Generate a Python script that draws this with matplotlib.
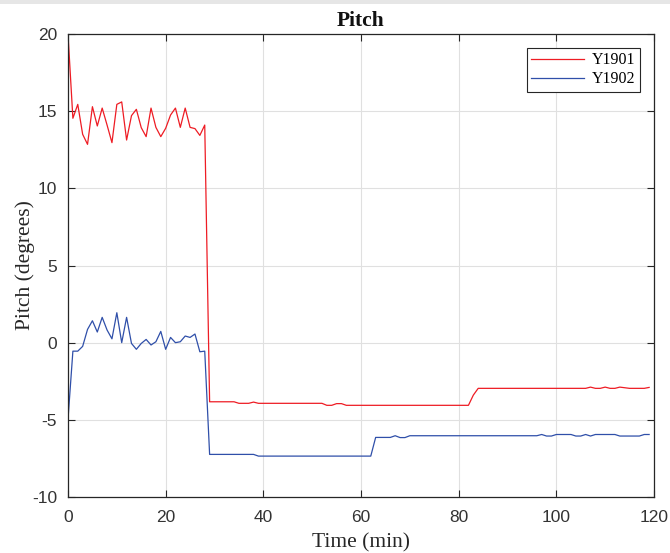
import matplotlib
matplotlib.use("Agg")
import matplotlib.pyplot as plt
from matplotlib.patches import Rectangle

plt.rcParams["axes.unicode_minus"] = False

time_min = list(range(120))

y1901 = [20.0, 14.54, 15.44, 13.5, 12.85, 15.29, 14.04, 15.2, 14.1, 12.96,
         15.44, 15.6, 13.13, 14.71, 15.12, 13.93, 13.35, 15.2, 13.95, 13.35,
         13.89, 14.75, 15.2, 13.95, 15.2, 13.95, 13.87, 13.43, 14.1,
         -3.83, -3.83, -3.83, -3.83, -3.83, -3.83,
         -3.93, -3.93, -3.93, -3.85,
         -3.93, -3.93, -3.93, -3.93, -3.93, -3.93, -3.93, -3.93, -3.93, -3.93,
         -3.93, -3.93, -3.93, -3.93,
         -4.06, -4.06, -3.95, -3.95,
         -4.06, -4.06, -4.06, -4.06, -4.06, -4.06, -4.06, -4.06, -4.06, -4.06,
         -4.06, -4.06, -4.06, -4.06, -4.06, -4.06, -4.06, -4.06, -4.06, -4.06,
         -4.06, -4.06, -4.06, -4.06, -4.06, -4.06,
         -3.4,
         -2.96, -2.96, -2.96, -2.96, -2.96, -2.96, -2.96, -2.96, -2.96, -2.96,
         -2.96, -2.96, -2.96, -2.96, -2.96, -2.96, -2.96, -2.96, -2.96, -2.96,
         -2.96, -2.96, -2.96,
         -2.88, -2.96, -2.96, -2.88, -2.96, -2.96, -2.88, -2.92, -2.96, -2.96,
         -2.96, -2.96, -2.9]

y1902 = [-4.97, -0.55, -0.55, -0.24, 0.86, 1.42, 0.69, 1.64, 0.82, 0.25,
         1.94, 0.0, 1.64, -0.05, -0.43, -0.05, 0.21, -0.15, 0.06, 0.73,
         -0.43, 0.34, 0.0, 0.06, 0.43, 0.34, 0.56, -0.59, -0.55,
         -7.24, -7.24, -7.24, -7.24, -7.24, -7.24, -7.24, -7.24, -7.24, -7.24,
         -7.35, -7.35, -7.35, -7.35, -7.35, -7.35, -7.35, -7.35, -7.35, -7.35,
         -7.35, -7.35, -7.35, -7.35, -7.35, -7.35, -7.35, -7.35, -7.35, -7.35,
         -7.35, -7.35, -7.35, -7.35,
         -6.14, -6.14, -6.14, -6.14,
         -6.03, -6.15, -6.15,
         -6.03, -6.03, -6.03, -6.03, -6.03, -6.03, -6.03, -6.03, -6.03, -6.03,
         -6.03, -6.03, -6.03, -6.03, -6.03, -6.03, -6.03, -6.03, -6.03, -6.03,
         -6.03, -6.03, -6.03, -6.03, -6.03, -6.03, -6.03,
         -5.95, -6.05, -6.05,
         -5.95, -5.95, -5.95, -5.95,
         -6.05, -6.05, -5.95, -6.05,
         -5.95, -5.95, -5.95, -5.95, -5.95,
         -6.05, -6.05, -6.05, -6.05, -6.05,
         -5.95, -5.95]

series_names = ["Y1901", "Y1902"]
x_ticks = [0, 20, 40, 60, 80, 100, 120]
y_ticks = [-10, -5, 0, 5, 10, 15, 20]

serif = ["Liberation Serif", "DejaVu Serif"]
sans = ["Liberation Sans", "DejaVu Sans"]
dark = "#262626"

fig = plt.figure(figsize=(6.7, 5.53), dpi=100)
fig.patches.append(Rectangle((0, 1 - 4 / 553), 1, 4 / 553, transform=fig.transFigure,
                             facecolor="#e6e6e6", edgecolor="none", zorder=-1))
ax = fig.add_axes([68 / 670, 56 / 553, 586 / 670, 463 / 553])

ax.plot(time_min, y1901, color="#ee1c24", lw=0.9, label=series_names[0])
ax.plot(time_min, y1902, color="#2f4fa9", lw=0.9, label=series_names[1])

ax.set_xlim(0, 120)
ax.set_ylim(-10, 20)
ax.set_xticks(x_ticks)
ax.set_yticks(y_ticks)
ax.grid(True, color="#e0e0e0", lw=0.8)
ax.set_axisbelow(True)
ax.tick_params(direction="in", top=True, right=True, length=5, width=0.8,
               color=dark, labelcolor="#333333", labelsize=12.5)
ax.tick_params(axis="x", pad=9)
ax.tick_params(axis="y", pad=8)
for lab in ax.get_xticklabels() + ax.get_yticklabels():
    lab.set_fontfamily(sans)
for sp in ax.spines.values():
    sp.set_color(dark)
    sp.set_linewidth(0.9)

ax.set_title("Pitch", fontfamily=serif, fontweight="bold", fontsize=15.5, color="#111111", pad=6)
ax.set_xlabel("Time (min)", fontfamily=serif, fontsize=15.5, color=dark)
ax.set_ylabel("Pitch (degrees)", fontfamily=serif, fontsize=15.5, color=dark)
ax.xaxis.set_label_coords(0.5, -0.078)
ax.yaxis.set_label_coords(-0.057, 0.5)

leg = ax.legend(loc="upper right", prop={"family": serif, "size": 11.5}, frameon=True,
                fancybox=False, edgecolor=dark, framealpha=1, handlelength=3.3,
                borderaxespad=0.85, borderpad=0.3, labelspacing=0.18, handletextpad=0.5)
leg.get_frame().set_linewidth(0.8)

fig.savefig("out.png", dpi=100)
